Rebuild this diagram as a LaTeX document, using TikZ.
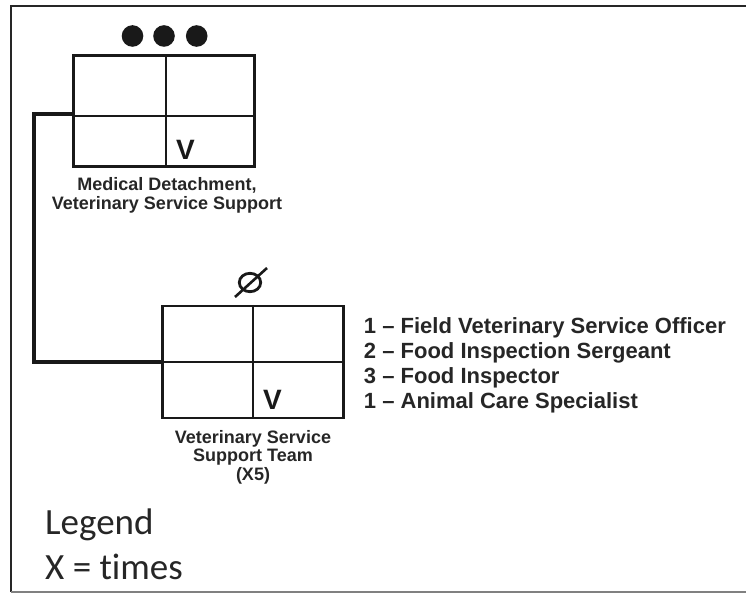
\documentclass[tikz,border=0pt]{standalone}
\usepackage{fontspec}
\usetikzlibrary{positioning}
\newfontfamily\armyfont[Ligatures=TeX]{Liberation Sans}
\newfontfamily\legendfont[Ligatures={TeX,NoCommon}]{Carlito}

\tikzset{
	unitbox/.style={draw=black!90, line width=2.5pt, minimum width=181pt, minimum height=111pt, inner sep=0pt},
	divider/.style={draw=black!90, line width=#1},
	link/.style={draw=black!90, line width=3.5pt},
	caption/.style={font=\armyfont\bfseries\fontsize{18}{#1}\selectfont, text=black!85, align=center, inner sep=0pt},
	vmark/.style={font=\armyfont\bfseries\fontsize{28}{30}\selectfont, text=black!90, inner sep=0pt},
	roster/.style={font=\armyfont\bfseries\fontsize{22}{25}\selectfont, text=black!85, align=left, inner sep=0pt},
}

\begin{document}
\begin{tikzpicture}[x=1pt, y=-1pt]
		\useasboundingbox (0, 0) rectangle (746, 593);
		\draw[line width=2.6pt, black!85] (746, 6) -- (11, 6) -- (11, 592);
		\draw[line width=1.4pt, black!50] (11, 592) -- (746, 592);
		
		\node[unitbox] (md) at (164, 111) {};
		\draw[divider=1.4pt] ([xshift=2pt]md.north) -- ([xshift=2pt]md.south);
		\draw[divider=1.5pt] ([yshift=-5pt]md.west) -- ([yshift=-5pt]md.east);
		\foreach \x in {132.5, 164, 196.7} \fill[black!90] (\x, 36) circle (10.8pt);
		\node[vmark, anchor=south west] at ([xshift=12pt, yshift=8pt]md.south) {V};
		\node[caption=19pt, anchor=north] (mdlabel) at ([xshift=3pt, yshift=-10pt]md.south)
			{Medical Detachment,\\Veterinary Service Support};
		
		\node[unitbox, minimum height=112pt] (vst) at (253, 362) {};
		\draw[divider=2.5pt] (vst.north) -- (vst.south);
		\draw[divider=2.5pt] (vst.west) -- (vst.east);
		\draw[line width=2.8pt, black!90] (250, 282.5) ellipse (10.7pt and 9.2pt);
		\draw[line width=2.6pt, black!90] (235, 297) -- (267, 268);
		\node[vmark, anchor=south west] at ([xshift=10pt, yshift=10pt]vst.south) {V};
		\node[caption=18.5pt, anchor=north] (vstlabel) at ([yshift=-11pt]vst.south)
			{Veterinary Service\\Support Team\\(X5)};
		
		\coordinate (bend) at (34, 114);
		\draw[link] ([yshift=-3pt]md.west) -- (bend) |- (vst.west);
		
		\node[roster, right=19pt of vst, yshift=-3pt] (staff)
			{1 -- Field Veterinary Service Officer\\
			2 -- Food Inspection Sergeant\\
			3 -- Food Inspector\\
			1 -- Animal Care Specialist};
		
		\node[anchor=north west, align=left, inner sep=0pt, text=black!85,
			font=\legendfont\fontsize{37}{45}\selectfont] (legend) at (45, 509)
			{Legend\\X = times};
\end{tikzpicture}
\end{document}
